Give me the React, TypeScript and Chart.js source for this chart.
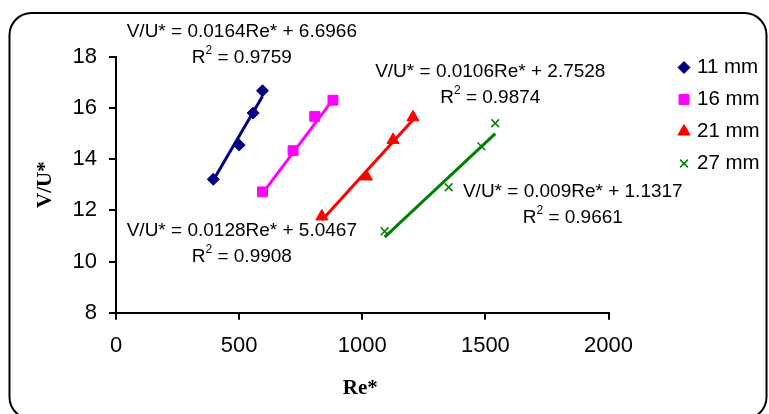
import React, { useEffect, useRef } from 'react';
import { Chart, registerables } from 'chart.js';
import { drawPoint } from 'chart.js/helpers';

Chart.register(...registerables);

// ---- data ----
const seriesNames = ['11 mm', '16 mm', '21 mm', '27 mm'];
const re11 = [395, 500, 557, 595];
const v11 = [13.21, 14.55, 15.8, 16.67];
const re16 = [595, 719, 807, 881];
const v16 = [12.72, 14.33, 15.67, 16.3];
const re21 = [836, 1017, 1125, 1206];
const v21 = [11.76, 13.32, 14.75, 15.63];
const re27 = [1091, 1351, 1484, 1540];
const v27 = [11.18, 12.9, 14.5, 15.4];
const slopes = [0.0164, 0.0128, 0.0106, 0.009];
const intercepts = [6.6966, 5.0467, 2.7528, 1.1317];
const r2Values = ['0.9759', '0.9908', '0.9874', '0.9661'];
const eqTexts = [
  'V/U* = 0.0164Re* + 6.6966',
  'V/U* = 0.0128Re* + 5.0467',
  'V/U* = 0.0106Re* + 2.7528',
  'V/U* = 0.009Re* + 1.1317',
];
const xTicks = [0, 500, 1000, 1500, 2000];
const yTicks = [8, 10, 12, 14, 16, 18];

// ---- styling / placement (not data) ----
const colors = ['#000080', '#FF00FF', '#FF0000', '#008000'];
const pointStyles = ['rectRot', 'rect', 'triangle', 'crossRot'];
const pointRadii = [6, 7, 7, 5.5];
// equation label anchors (center x, first line y) in data units
const labelAnchorX = [511, 511, 1520, 1855];
const labelAnchorY = [18.96, 11.2, 17.41, 12.73];

const SANS = '"Liberation Sans", Arial, sans-serif';
const SERIF = '"Liberation Serif", "Times New Roman", serif';

const reArr = [re11, re16, re21, re27];
const vArr = [v11, v16, v21, v27];

const overlayPlugin = {
  id: 'overlay',
  beforeDraw(chart: any) {
    const ctx = chart.ctx;
    const w = chart.width;
    const h = chart.height;
    ctx.save();
    ctx.fillStyle = '#ffffff';
    ctx.fillRect(0, 0, w, h);
    // rounded frame
    const x0 = 9.5, y0 = 13, x1 = 766.5, y1 = 419, r = 22;
    ctx.beginPath();
    ctx.moveTo(x0 + r, y0);
    ctx.lineTo(x1 - r, y0);
    ctx.arcTo(x1, y0, x1, y0 + r, r);
    ctx.lineTo(x1, y1 - r);
    ctx.arcTo(x1, y1, x1 - r, y1, r);
    ctx.lineTo(x0 + r, y1);
    ctx.arcTo(x0, y1, x0, y1 - r, r);
    ctx.lineTo(x0, y0 + r);
    ctx.arcTo(x0, y0, x0 + r, y0, r);
    ctx.closePath();
    ctx.lineWidth = 2;
    ctx.strokeStyle = '#000';
    ctx.stroke();
    ctx.restore();
  },
  afterDraw(chart: any) {
    const ctx = chart.ctx;
    const xs = chart.scales.x;
    const ys = chart.scales.y;
    ctx.save();
    ctx.fillStyle = '#000';
    ctx.textBaseline = 'middle';
    // equations
    for (let i = 0; i < eqTexts.length; i++) {
      const cx = xs.getPixelForValue(labelAnchorX[i]);
      const cy = ys.getPixelForValue(labelAnchorY[i]);
      ctx.font = `19px ${SANS}`;
      ctx.textAlign = 'center';
      ctx.fillText(eqTexts[i], cx, cy);
      // R^2 line
      const y2 = cy + 26;
      ctx.textAlign = 'left';
      ctx.font = `19px ${SANS}`;
      const wR = ctx.measureText('R').width;
      const rest = ' = ' + r2Values[i];
      const wRest = ctx.measureText(rest).width;
      ctx.font = `12px ${SANS}`;
      const w2 = ctx.measureText('2').width;
      const total = wR + w2 + wRest;
      let x = cx - total / 2;
      ctx.font = `19px ${SANS}`;
      ctx.fillText('R', x, y2);
      x += wR;
      ctx.font = `12px ${SANS}`;
      ctx.fillText('2', x, y2 - 7);
      x += w2;
      ctx.font = `19px ${SANS}`;
      ctx.fillText(rest, x, y2);
    }
    // axis titles
    ctx.font = `bold 21px ${SERIF}`;
    ctx.textAlign = 'center';
    ctx.fillText('Re*', (xs.left + xs.right) / 2 - 2, 389);
    ctx.save();
    ctx.translate(46, (ys.top + ys.bottom) / 2);
    ctx.rotate(-Math.PI / 2);
    ctx.fillText('V/U*', 0, 0);
    ctx.restore();
    // legend
    const lx = 684;
    const ly0 = 67.5;
    const dy = 32;
    for (let i = 0; i < seriesNames.length; i++) {
      const y = ly0 + i * dy;
      ctx.fillStyle = colors[i];
      ctx.strokeStyle = colors[i];
      ctx.lineWidth = pointStyles[i] === 'crossRot' ? 1.5 : 1;
      drawPoint(ctx, { pointStyle: pointStyles[i], radius: pointRadii[i], rotation: 0, borderWidth: ctx.lineWidth }, lx, y);
      ctx.fillStyle = '#000';
      ctx.font = `20.5px ${SANS}`;
      ctx.textAlign = 'left';
      ctx.fillText(seriesNames[i], 697, y);
    }
    ctx.restore();
  },
};

export default function App() {
  const canvasRef = useRef<HTMLCanvasElement | null>(null);

  useEffect(() => {
    const canvas = canvasRef.current;
    if (!canvas) return;
    const datasets: any[] = [];
    for (let i = 0; i < seriesNames.length; i++) {
      const xsd = reArr[i];
      const xmin = Math.min(...xsd);
      const xmax = Math.max(...xsd);
      datasets.push({
        label: seriesNames[i] + ' trend',
        data: [xmin, xmax].map((x) => ({ x, y: slopes[i] * x + intercepts[i] })),
        showLine: true,
        borderColor: colors[i],
        borderWidth: 3,
        pointRadius: 0,
        fill: false,
        order: 0,
      });
    }
    for (let i = 0; i < seriesNames.length; i++) {
      datasets.push({
        label: seriesNames[i],
        data: reArr[i].map((x, j) => ({ x, y: vArr[i][j] })),
        showLine: false,
        pointStyle: pointStyles[i],
        pointRadius: pointRadii[i],
        pointBackgroundColor: colors[i],
        pointBorderColor: colors[i],
        pointBorderWidth: pointStyles[i] === 'crossRot' ? 1.5 : 1,
        order: 1,
      });
    }
    const chart = new Chart(canvas, {
      type: 'scatter',
      data: { datasets },
      options: {
        animation: false,
        responsive: false,
        maintainAspectRatio: false,
        layout: { padding: { left: 0, right: 160.5, top: 56.7, bottom: 0 } },
        plugins: {
          legend: { display: false },
          tooltip: { enabled: false },
        },
        scales: {
          x: {
            type: 'linear',
            min: 0,
            max: 2000,
            afterBuildTicks: (s: any) => {
              s.ticks = xTicks.map((v) => ({ value: v }));
            },
            afterFit: (s: any) => {
              s.height = 414 - 312.7;
            },
            ticks: {
              color: '#000',
              font: { family: SANS, size: 22 },
              padding: 13,
              maxRotation: 0,
              callback: (v: any) => String(v),
            },
            grid: {
              display: true,
              drawOnChartArea: false,
              drawTicks: true,
              tickLength: 7,
              color: '#000',
              lineWidth: 2,
            },
            border: { display: true, color: '#000', width: 2 },
          },
          y: {
            type: 'linear',
            min: 8,
            max: 18,
            afterBuildTicks: (s: any) => {
              s.ticks = yTicks.map((v) => ({ value: v }));
            },
            afterFit: (s: any) => {
              s.width = 116;
            },
            ticks: {
              color: '#000',
              font: { family: SANS, size: 22 },
              padding: 12,
              callback: (v: any) => String(v),
            },
            grid: {
              display: true,
              drawOnChartArea: false,
              drawTicks: true,
              tickLength: 7,
              color: '#000',
              lineWidth: 2,
            },
            border: { display: true, color: '#000', width: 2 },
          },
        },
      },
      plugins: [overlayPlugin],
    } as any);
    return () => chart.destroy();
  }, []);

  return (
    <div style={{ position: 'fixed', left: 0, top: 0, width: 769, height: 414, background: '#fff' }}>
      <canvas ref={canvasRef} width={769} height={414} style={{ width: 769, height: 414, display: 'block' }} />
    </div>
  );
}
